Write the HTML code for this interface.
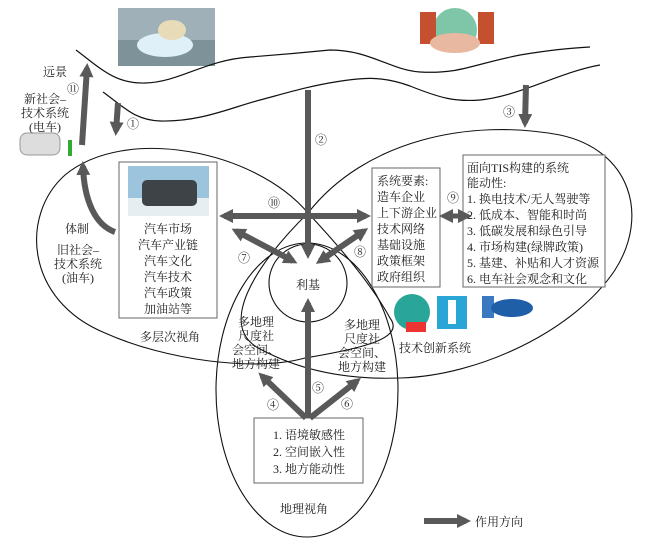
<!DOCTYPE html>
<html><head><meta charset="utf-8"><style>
html,body{margin:0;padding:0;background:#fff;}
svg{display:block;}
text{font-family:"Liberation Serif","Noto Serif CJK SC","Noto Sans CJK SC",serif;font-size:12px;fill:#222;}
</style></head><body>
<svg width="654" height="547" viewBox="0 0 654 547" xmlns="http://www.w3.org/2000/svg">
<defs>
<marker id="ah" markerWidth="14" markerHeight="14" refX="9" refY="7" orient="auto" markerUnits="userSpaceOnUse">
<path d="M0,0 L14,7 L0,14 Z" fill="#595959"/></marker>
<marker id="as" markerWidth="14" markerHeight="14" refX="9" refY="7" orient="auto-start-reverse" markerUnits="userSpaceOnUse">
<path d="M0,0 L14,7 L0,14 Z" fill="#595959"/></marker>
</defs>
<!-- images placeholders -->
<rect x="118" y="8" width="97" height="58" fill="#9fb0b8"/>
<rect x="118" y="40" width="97" height="26" fill="#7e9299"/>
<ellipse cx="165" cy="45" rx="28" ry="12" fill="#dff0f8"/>
<ellipse cx="172" cy="30" rx="14" ry="10" fill="#e8dcb8"/>
<circle cx="455" cy="30" r="22" fill="#7fc6a8"/>
<rect x="420" y="12" width="16" height="32" fill="#c5502f"/>
<rect x="478" y="12" width="16" height="32" fill="#c5502f"/>
<ellipse cx="455" cy="43" rx="25" ry="10" fill="#e9b8a0"/>
<!-- waves -->
<path d="M76,50 C100,68 115,84 145,83 C180,82 205,60 250,57 C290,54 310,52 330,50 C370,50 390,70 420,72 C460,74 470,65 520,55 C550,50 570,48 590,47" fill="none" stroke="#111" stroke-width="1.2"/>
<path d="M103,92 C125,108 135,120 160,121 C200,122 230,108 260,100 C290,92 310,86 335,82 C360,78 380,75 410,86 C440,98 455,102 480,100 C520,96 560,72 600,65" fill="none" stroke="#111" stroke-width="1.2"/>
<!-- ellipses -->
<path d="M308,213 C255,150 125,125 65,175 C20,215 25,300 105,333 C165,360 255,372 305,358 C365,348 405,338 390,318 C372,285 338,245 308,213 Z" fill="none" stroke="#111" stroke-width="1.1"/>
<path d="M308,213 C365,140 470,118 560,135 C630,150 650,215 615,270 C575,330 480,376 400,378 C345,380 300,370 262,350 C215,328 255,265 308,213 Z" fill="none" stroke="#111" stroke-width="1.1"/>
<ellipse cx="307" cy="390" rx="91" ry="147" fill="none" stroke="#111" stroke-width="1.1"/>
<circle cx="308" cy="283" r="39" fill="none" stroke="#111" stroke-width="1.1"/>
<!-- boxes -->
<rect x="119" y="162" width="98" height="156" fill="#fff" stroke="#666" stroke-width="1"/>
<rect x="128" y="166" width="81" height="50" fill="#9cc4dc"/>
<rect x="128" y="198" width="81" height="18" fill="#e6eef2"/>
<rect x="142" y="180" width="55" height="26" rx="5" fill="#3e4347"/>
<rect x="372" y="168" width="68" height="119" fill="#fff" stroke="#666" stroke-width="1"/>
<rect x="463" y="155" width="142" height="132" fill="#fff" stroke="#666" stroke-width="1"/>
<rect x="254" y="418" width="109" height="65" fill="#fff" stroke="#666" stroke-width="1"/>
<!-- icons -->
<circle cx="412" cy="312" r="18" fill="#2aa59a"/>
<rect x="406" y="322" width="20" height="10" fill="#e33"/>
<rect x="437" y="296" width="30" height="33" fill="#29a5d6"/>
<rect x="448" y="300" width="8" height="24" fill="#fff"/>
<rect x="482" y="296" width="12" height="22" fill="#3a78c2"/>
<ellipse cx="512" cy="308" rx="21" ry="9" fill="#1e5fa8"/>
<rect x="20" y="133" width="40" height="22" rx="7" fill="#ddd" stroke="#999"/>
<rect x="68" y="140" width="4" height="16" fill="#3a3"/>
<!-- arrows -->
<g stroke="#595959" stroke-width="6" fill="none">
<line x1="118" y1="103" x2="116" y2="131" marker-end="url(#ah)"/>
<line x1="82" y1="145" x2="87" y2="68" marker-end="url(#ah)"/>
<path d="M115,232 C95,225 84,200 83,166" marker-end="url(#ah)"/>
<line x1="308" y1="90" x2="308" y2="254" marker-end="url(#ah)"/>
<line x1="526" y1="85" x2="525" y2="123" marker-end="url(#ah)"/>
<line x1="224" y1="216" x2="366" y2="216" marker-start="url(#as)" marker-end="url(#ah)"/>
<line x1="236" y1="231" x2="293" y2="261" marker-start="url(#as)" marker-end="url(#ah)"/>
<line x1="364" y1="231" x2="320" y2="261" marker-start="url(#as)" marker-end="url(#ah)"/>
<line x1="444" y1="216" x2="467" y2="216" stroke-width="5" marker-start="url(#as)" marker-end="url(#ah)"/>
<line x1="308" y1="418" x2="308" y2="303" marker-end="url(#ah)"/>
<line x1="306" y1="418" x2="262" y2="376" marker-end="url(#ah)"/>
<line x1="310" y1="418" x2="357" y2="381" marker-end="url(#ah)"/>
<line x1="424" y1="521" x2="466" y2="521" marker-end="url(#ah)"/>
</g>
<!-- labels -->
<text x="55" y="76" text-anchor="middle">远景</text>
<text x="73" y="93" text-anchor="middle">⑪</text>
<text x="45" y="103" text-anchor="middle">新社会–</text>
<text x="45" y="117" text-anchor="middle">技术系统</text>
<text x="45" y="131" text-anchor="middle">(电车)</text>
<text x="133" y="128" text-anchor="middle">①</text>
<text x="321" y="144" text-anchor="middle">②</text>
<text x="509" y="116" text-anchor="middle">③</text>
<text x="274" y="207" text-anchor="middle">⑩</text>
<text x="244" y="262" text-anchor="middle">⑦</text>
<text x="360" y="256" text-anchor="middle">⑧</text>
<text x="453" y="202" text-anchor="middle">⑨</text>
<text x="273" y="409" text-anchor="middle">④</text>
<text x="318" y="392" text-anchor="middle">⑤</text>
<text x="347" y="408" text-anchor="middle">⑥</text>
<text x="77" y="233" text-anchor="middle">体制</text>
<text x="78" y="254" text-anchor="middle">旧社会–</text>
<text x="78" y="268" text-anchor="middle">技术系统</text>
<text x="78" y="282" text-anchor="middle">(油车)</text>
<g text-anchor="middle">
<text x="168" y="233">汽车市场</text>
<text x="168" y="249">汽车产业链</text>
<text x="168" y="265">汽车文化</text>
<text x="168" y="281">汽车技术</text>
<text x="168" y="297">汽车政策</text>
<text x="168" y="313">加油站等</text>
</g>
<text x="170" y="341" text-anchor="middle">多层次视角</text>
<text x="308" y="289" text-anchor="middle">利基</text>
<g>
<text x="377" y="185">系统要素:</text>
<text x="377" y="201">造车企业</text>
<text x="377" y="217">上下游企业</text>
<text x="377" y="233">技术网络</text>
<text x="377" y="249">基础设施</text>
<text x="377" y="265">政策框架</text>
<text x="377" y="281">政府组织</text>
</g>
<g>
<text x="467" y="172">面向TIS构建的系统</text>
<text x="467" y="187">能动性:</text>
<text x="467" y="203">1. 换电技术/无人驾驶等</text>
<text x="467" y="219">2. 低成本、智能和时尚</text>
<text x="467" y="235">3. 低碳发展和绿色引导</text>
<text x="467" y="251">4. 市场构建(绿牌政策)</text>
<text x="467" y="267">5. 基建、补贴和人才资源</text>
<text x="467" y="283">6. 电车社会观念和文化</text>
</g>
<text x="435" y="352" text-anchor="middle">技术创新系统</text>
<g text-anchor="middle">
<text x="256" y="326">多地理</text>
<text x="256" y="340">尺度社</text>
<text x="256" y="354">会空间、</text>
<text x="256" y="368">地方构建</text>
<text x="362" y="329">多地理</text>
<text x="362" y="343">尺度社</text>
<text x="362" y="357">会空间、</text>
<text x="362" y="371">地方构建</text>
</g>
<text x="273" y="439">1. 语境敏感性</text>
<text x="273" y="456">2. 空间嵌入性</text>
<text x="273" y="473">3. 地方能动性</text>
<text x="304" y="513" text-anchor="middle">地理视角</text>
<text x="475" y="526">作用方向</text>
</svg>
</body></html>
